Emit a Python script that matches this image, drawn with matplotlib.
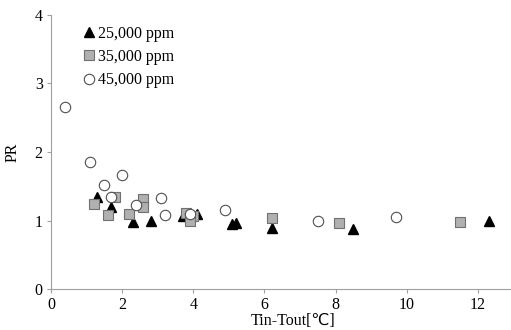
import matplotlib
matplotlib.use("Agg")
import matplotlib.pyplot as plt

plt.rcParams['font.family'] = ['Liberation Serif', 'DejaVu Sans']

# 25,000 ppm
x25 = [1.3, 1.7, 2.3, 2.8, 3.7, 4.1, 5.1, 5.2, 6.2, 8.5, 12.3]
y25 = [1.35, 1.2, 0.98, 1.0, 1.06, 1.1, 0.95, 0.97, 0.89, 0.88, 0.99]
# 35,000 ppm
x35 = [1.2, 1.6, 1.8, 2.2, 2.6, 2.6, 3.8, 3.9, 4.0, 3.9, 6.2, 8.1, 11.5]
y35 = [1.24, 1.08, 1.34, 1.09, 1.32, 1.19, 1.11, 1.03, 1.07, 1.0, 1.04, 0.96, 0.98]
# 45,000 ppm
x45 = [0.4, 1.1, 1.5, 2.0, 1.7, 2.4, 3.1, 3.2, 3.9, 4.9, 7.5, 9.7]
y45 = [2.65, 1.86, 1.52, 1.67, 1.34, 1.23, 1.33, 1.08, 1.1, 1.16, 0.99, 1.05]

fig = plt.figure(figsize=(5.11, 3.30), dpi=100)
ax = fig.add_axes([0.0998, 0.124, 0.898, 0.831])

ax.plot(x25, y25, '^', color='black', markersize=7.5, linestyle='none', label='25,000 ppm')
ax.plot(x35, y35, 's', markerfacecolor='#b0b0b0', markeredgecolor='#707070',
        markeredgewidth=0.8, markersize=7, linestyle='none', label='35,000 ppm')
ax.plot(x45, y45, 'o', markerfacecolor='white', markeredgecolor='#505050',
        markeredgewidth=0.8, markersize=7.5, linestyle='none', label='45,000 ppm')

ax.set_xlim(0, 12.9)
ax.set_ylim(0, 4)
ax.set_xticks([0, 2, 4, 6, 8, 10, 12])
ax.set_yticks([0, 1, 2, 3, 4])
for s in ['top', 'right']:
    ax.spines[s].set_visible(False)
for s in ['left', 'bottom']:
    ax.spines[s].set_color('#a0a0a0')
ax.tick_params(direction='out', length=3, color='#a0a0a0', labelsize=11.5, pad=3)

ax.set_xlabel('Tin-Tout[℃]', fontsize=11.5)
ax.xaxis.set_label_coords(0.527, -0.088)
ax.set_ylabel('PR', fontsize=11.5, labelpad=10)

ax.legend(loc='upper left', bbox_to_anchor=(0.045, 0.995), frameon=False, fontsize=11.5,
          handletextpad=0.05, handlelength=1.0, labelspacing=0.45, borderaxespad=0.2)

fig.savefig('out.png', dpi=100)
